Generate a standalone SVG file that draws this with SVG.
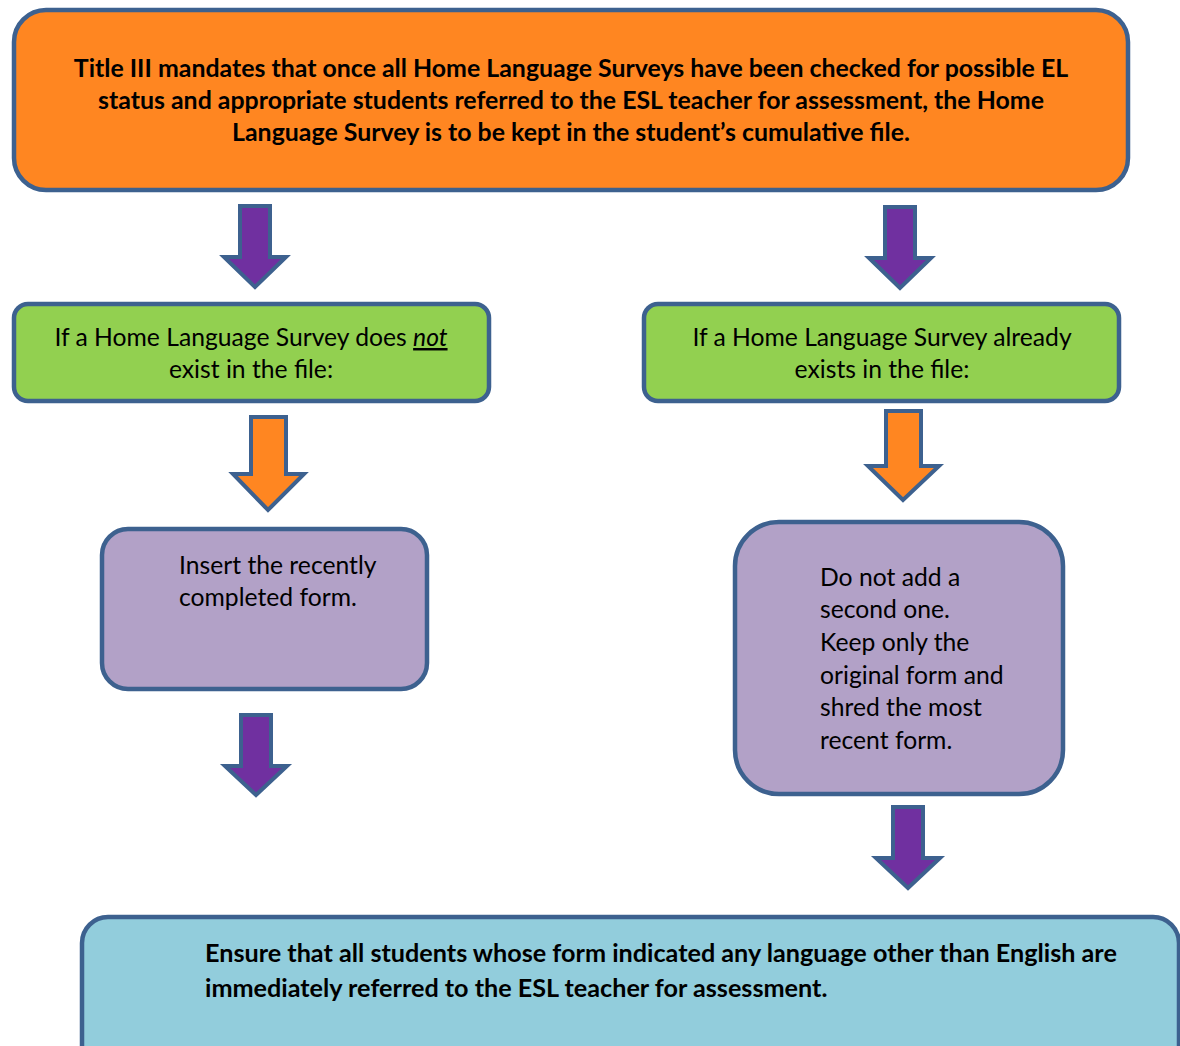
<svg xmlns="http://www.w3.org/2000/svg" width="1180" height="1046" viewBox="0 0 1180 1046">
<style>
.box{stroke:#3D618F;stroke-width:4.5}
.arr{stroke:#3D618F;stroke-width:4;stroke-linejoin:miter}
.t{font-family:Lato,"Open Sans",sans-serif;font-size:24.7px;fill:#000}
.b{font-weight:bold;font-size:24.9px}
</style>
<rect width="1180" height="1046" fill="#fff"/>
<g id="top">
<rect class="box" x="14" y="10" width="1114" height="180" rx="32" fill="#FF8621"/>
<text class="t b" text-anchor="middle"><tspan x="571" y="77">Title III mandates that once all Home Language Surveys have been checked for possible EL</tspan><tspan x="571" y="109">status and appropriate students referred to the ESL teacher for assessment, the Home</tspan><tspan x="571" y="141">Language Survey is to be kept in the student’s cumulative file.</tspan></text>
</g>
<g id="left-cond">
<rect class="box" x="14" y="304" width="475" height="97" rx="14" fill="#92D050"/>
<text class="t" text-anchor="middle"><tspan x="251" y="346">If a Home Language Survey does <tspan font-style="italic" text-decoration="underline">not</tspan></tspan><tspan x="251" y="378">exist in the file:</tspan></text>
</g>
<g id="right-cond">
<rect class="box" x="644" y="304" width="475" height="97" rx="14" fill="#92D050"/>
<text class="t" text-anchor="middle"><tspan x="882" y="346">If a Home Language Survey already</tspan><tspan x="882" y="378">exists in the file:</tspan></text>
</g>
<g id="left-action">
<rect class="box" x="102" y="529" width="325" height="160" rx="26" fill="#B2A1C7"/>
<text class="t"><tspan x="179" y="574">Insert the recently</tspan><tspan x="179" y="606">completed form.</tspan></text>
</g>
<g id="right-action">
<rect class="box" x="735" y="522" width="328" height="272" rx="44" fill="#B2A1C7"/>
<text class="t"><tspan x="820" y="586">Do not add a</tspan><tspan x="820" y="618">second one.</tspan><tspan x="820" y="651">Keep only the</tspan><tspan x="820" y="684">original form and</tspan><tspan x="820" y="716">shred the most</tspan><tspan x="820" y="749">recent form.</tspan></text>
</g>
<g id="bottom">
<rect class="box" x="82" y="917" width="1097" height="160" rx="26" fill="#92CDDC"/>
<text class="t b" style="font-size:25.2px"><tspan x="205" y="962">Ensure that all students whose form indicated any language other than English are</tspan><tspan x="205" y="997">immediately referred to the ESL teacher for assessment.</tspan></text>
</g>
<g id="connectors">
<polygon class="arr" fill="#7030A0" points="240,206 270,206 270,257 286,257 255,287 224,257 240,257"/>
<polygon class="arr" fill="#7030A0" points="885,207 915,207 915,258 931,258 900,288 869,258 885,258"/>
<polygon class="arr" fill="#FF8621" points="251,417 286,417 286,474 304,474 268,510 233,474 251,474"/>
<polygon class="arr" fill="#FF8621" points="886,411 921,411 921,466 939,466 903,500 868,466 886,466"/>
<polygon class="arr" fill="#7030A0" points="241,715 271,715 271,766 287,766 256,795 225,766 241,766"/>
<polygon class="arr" fill="#7030A0" points="893,807 923,807 923,858 940,858 908,888 876,858 893,858"/>
</g>
</svg>
